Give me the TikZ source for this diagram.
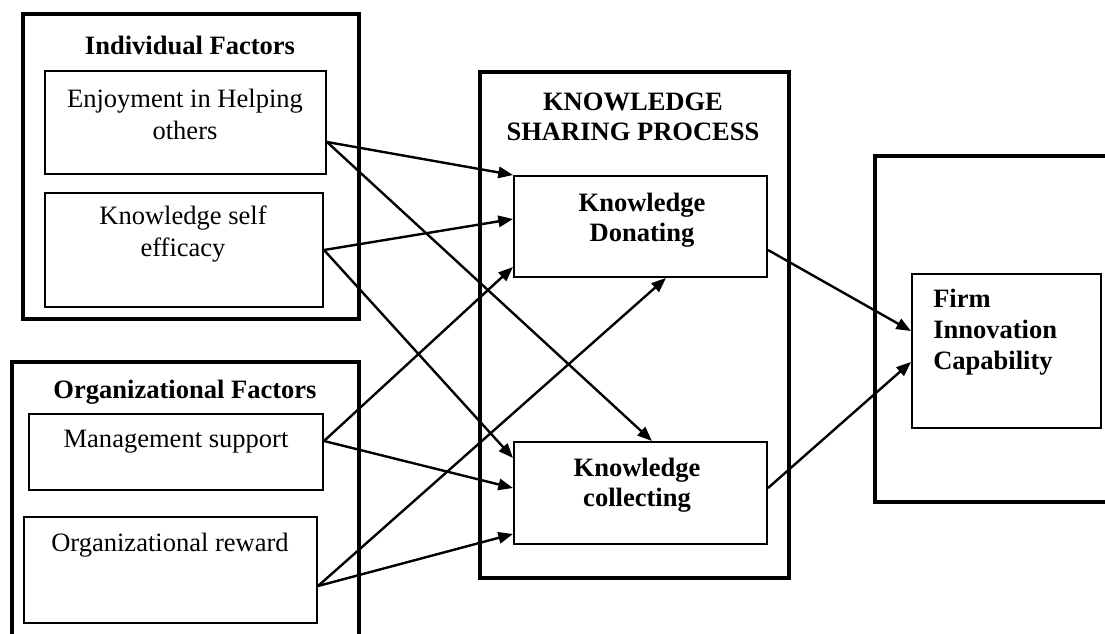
\documentclass[tikz,border=0pt]{standalone}
\usepackage{fontspec}
\setmainfont{Liberation Serif}
\usetikzlibrary{arrows.meta,calc}

\tikzset{
  outerbox/.style={draw, line width=3pt, inner sep=0pt},
  innerbox/.style={draw, line width=1.5pt, inner sep=0pt},
  plain/.style={font=\fontsize{19.9}{24}\selectfont, align=center, inner sep=0pt},
  heading/.style={font=\fontsize{19.9}{22.5}\selectfont\bfseries, align=center, inner sep=0pt},
  arr/.style={line width=1.8pt, -{Triangle[length=11pt,width=8.5pt]}}
}

\begin{document}
\begin{tikzpicture}[x=0.75pt,y=-0.75pt]
\useasboundingbox (0,0) rectangle (1105,634);
\fill[white] (0,0) rectangle (1105,634);
\clip (0,0) rectangle (1105,634);

% group frames
\node[outerbox, minimum width=336*0.75pt, minimum height=305*0.75pt] (indiv) at (191,166.5) {};
\node[outerbox, minimum width=347*0.75pt, minimum height=288*0.75pt] (org) at (185.5,506) {};
\node[outerbox, minimum width=309*0.75pt, minimum height=506*0.75pt] (ksp) at (634.5,325) {};
\node[outerbox, minimum width=255*0.75pt, minimum height=346*0.75pt] (firmout) at (1002.5,329) {};

% factor boxes
\node[innerbox, minimum width=281*0.75pt, minimum height=103*0.75pt] (enj) at (185.5,122.5) {};
\node[innerbox, minimum width=278*0.75pt, minimum height=114*0.75pt] (eff) at (184,250) {};
\node[innerbox, minimum width=294*0.75pt, minimum height=76*0.75pt] (mgmt) at (176,452) {};
\node[innerbox, minimum width=293*0.75pt, minimum height=106*0.75pt] (rew) at (170.5,570) {};

% process and outcome boxes
\node[innerbox, minimum width=253*0.75pt, minimum height=101*0.75pt] (don) at (640.5,226.5) {};
\node[innerbox, minimum width=253*0.75pt, minimum height=102*0.75pt] (coll) at (640.5,493) {};
\node[innerbox, minimum width=189*0.75pt, minimum height=154*0.75pt] (firm) at (1006.5,351) {};

% texts
\node[heading] (indivT) at (190,45) {Individual Factors};
\node[plain] (enjT) at (185,114) {Enjoyment in Helping\\others};
\node[plain] (effT) at (183,234) {Knowledge self\\efficacy};
\node[heading] (orgT) at (185,392) {Organizational Factors};
\node[plain] (mgmtT) at (176,442) {Management support};
\node[plain] (rewT) at (170,545) {Organizational reward};
\node[heading] (kspT) at (633,116.5) {KNOWLEDGE\\SHARING PROCESS};
\node[heading] (donT) at (642,220) {Knowledge\\Donating};
\node[heading] (collT) at (637,485) {Knowledge\\collecting};
\node[heading, align=left, anchor=west, font=\fontsize{19.9}{23}\selectfont\bfseries] (firmT) at (933,332) {Firm\\Innovation\\Capability};

% connectors
\draw[arr] ($(enj.north east)+(0,72)$) -- (don.north west);
\draw[arr] ($(enj.north east)+(0,72)$) -- ($(coll.north west)+(139,0)$);
\draw[arr] (eff.east) -- ($(don.north west)+(0,44)$);
\draw[arr] (eff.east) -- ($(coll.north west)+(0,17)$);
\draw[arr] ($(mgmt.north east)+(0,28)$) -- ($(don.south west)+(0,-11)$);
\draw[arr] ($(mgmt.north east)+(0,28)$) -- ($(coll.north west)+(0,47)$);
\draw[arr] ($(rew.north east)+(0,70)$) -- ($(don.south west)+(153,0)$);
\draw[arr] ($(rew.north east)+(0,70)$) -- ($(coll.south west)+(0,-11)$);
\draw[arr] ($(don.north east)+(0,75)$) -- ($(firm.north west)+(0,58)$);
\draw[arr] ($(coll.north east)+(0,47)$) -- ($(firm.north west)+(0,89)$);
\end{tikzpicture}
\end{document}
